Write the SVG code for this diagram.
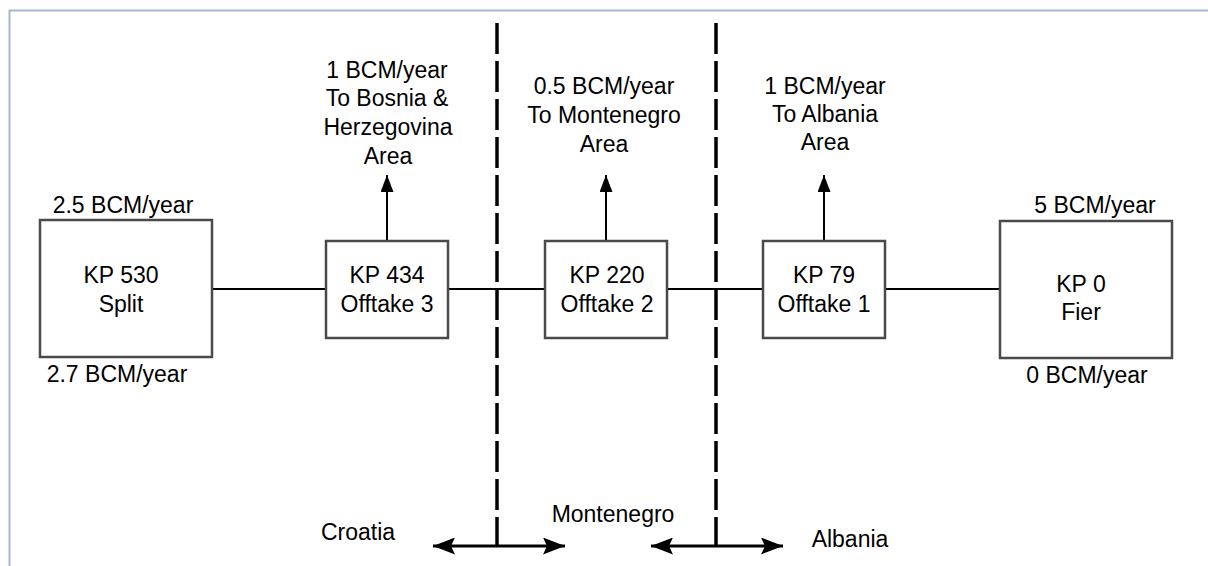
<svg xmlns="http://www.w3.org/2000/svg" width="1208" height="566" viewBox="0 0 1208 566">
<style>
text{font-family:"Liberation Sans",Arial,sans-serif;font-size:23px;fill:#000;text-anchor:middle}
.box{fill:#fff;stroke:#4a4a4a;stroke-width:2.5}
.ln{stroke:#000;stroke-width:2;fill:none}
.dash{stroke:#000;stroke-width:3.5;stroke-dasharray:31 7;fill:none}
.bar{stroke:#000;stroke-width:3;fill:none}
</style>
<defs>
<marker id="up" markerWidth="17" markerHeight="13" refX="17" refY="6.5" orient="auto" markerUnits="userSpaceOnUse" viewBox="0 0 17 13">
<path d="M17,6.5 L0,0 L0,13 Z" fill="#000"/>
</marker>
<marker id="ah" markerWidth="22" markerHeight="17" refX="22" refY="8.5" orient="auto-start-reverse" markerUnits="userSpaceOnUse" viewBox="0 0 22 17">
<path d="M22,8.5 L0,0 L4,8.5 L0,17 Z" fill="#000"/>
</marker>
</defs>
<rect x="9.5" y="10.5" width="1250" height="600" fill="none" stroke="#aab6cf" stroke-width="2"/>

<g id="connectors">
<line class="ln" x1="212" y1="289" x2="1000" y2="289"/>
<line class="ln" x1="387" y1="241" x2="387" y2="175" marker-end="url(#up)"/>
<line class="ln" x1="606" y1="241" x2="606" y2="175" marker-end="url(#up)"/>
<line class="ln" x1="824" y1="241" x2="824" y2="175" marker-end="url(#up)"/>
<line class="dash" x1="497" y1="23" x2="497" y2="546"/>
<line class="dash" x1="716" y1="23" x2="716" y2="546"/>
<line class="bar" x1="433" y1="546" x2="565" y2="546" marker-start="url(#ah)" marker-end="url(#ah)"/>
<line class="bar" x1="651" y1="546" x2="783" y2="546" marker-start="url(#ah)" marker-end="url(#ah)"/>
</g>

<g id="kp530">
<rect class="box" x="40" y="220" width="172" height="137"/>
<text x="121" y="283">KP 530</text>
<text x="121" y="312">Split</text>
<text x="123" y="213">2.5 BCM/year</text>
<text x="117" y="382">2.7 BCM/year</text>
</g>

<g id="kp434">
<rect class="box" x="326" y="241" width="122" height="97"/>
<text x="387" y="283">KP 434</text>
<text x="387" y="312">Offtake 3</text>
</g>
<g id="label-bosnia">
<text x="387" y="78">1 BCM/year</text>
<text x="387" y="106">To Bosnia &amp;</text>
<text x="388" y="135">Herzegovina</text>
<text x="388" y="164">Area</text>
</g>

<g id="kp220">
<rect class="box" x="545" y="241" width="122" height="97"/>
<text x="607" y="283">KP 220</text>
<text x="607" y="312">Offtake 2</text>
</g>
<g id="label-montenegro">
<text x="604" y="94">0.5 BCM/year</text>
<text x="604" y="123">To Montenegro</text>
<text x="604" y="152">Area</text>
</g>

<g id="kp79">
<rect class="box" x="763" y="241" width="122" height="97"/>
<text x="824" y="283">KP 79</text>
<text x="824" y="312">Offtake 1</text>
</g>
<g id="label-albania">
<text x="825" y="94">1 BCM/year</text>
<text x="825" y="122">To Albania</text>
<text x="825" y="150">Area</text>
</g>

<g id="kp0">
<rect class="box" x="1000" y="221" width="172" height="137"/>
<text x="1081" y="292">KP 0</text>
<text x="1081" y="320">Fier</text>
<text x="1095" y="213">5 BCM/year</text>
<text x="1087" y="383">0 BCM/year</text>
</g>

<g id="countries">
<text x="358" y="540">Croatia</text>
<text x="613" y="522">Montenegro</text>
<text x="850" y="547">Albania</text>
</g>
</svg>
